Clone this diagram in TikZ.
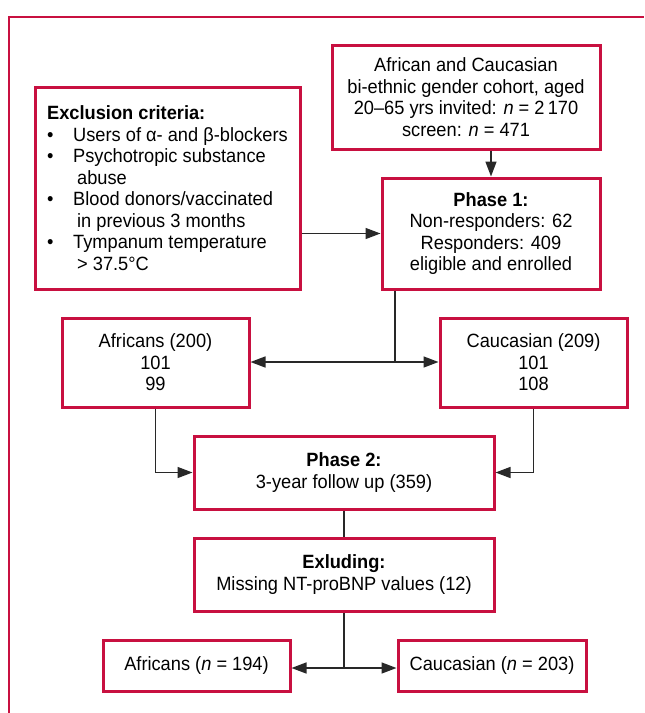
\documentclass[tikz,border=0pt]{standalone}
\usepackage{fontspec}
\setmainfont{Liberation Sans}[FakeStretch=0.95]
\usetikzlibrary{arrows.meta}
\usepackage{xcolor}
\definecolor{crimson}{RGB}{200,16,64}
\definecolor{wire}{RGB}{40,40,40}

\newcommand{\bul}[1]{\makebox[13pt][l]{\textbullet}#1}
\newcommand{\cont}[1]{\hspace*{15pt}#1}

\begin{document}
\begin{tikzpicture}[x=0.5pt,y=-0.5pt,
    cbox/.style={draw=crimson,line width=1.5pt,align=center,inner sep=0pt,
      font=\fontsize{9.6}{10.75}\selectfont},
    dims/.style 2 args={minimum width=#1*0.5pt,minimum height=#2*0.5pt},
    link/.style={draw=wire,line width=0.75pt},
    tip/.style={-{Triangle[length=7.5pt,width=5.5pt]}},
    dbl/.style={{Triangle[length=7.5pt,width=5.5pt]}-{Triangle[length=7.5pt,width=5.5pt]}}]
  \useasboundingbox (0,0) rectangle (644,713);

  % Frame
  \draw[crimson,line width=1.2pt] (9,713) -- (9,17) -- (644,17);

  % Boxes
  \node[cbox,dims={268}{104}] (cohort) at (466,97)
    {African and Caucasian\\bi-ethnic gender cohort, aged\\
     20–65 yrs invited: \textit{n} = 2\,170\\screen: \textit{n} = 471};
  \node[cbox,dims={265}{202},align=left] (excl) at (167.5,188)
    {\textbf{Exclusion criteria:}\\
     \bul{Users of α- and β-blockers}\\
     \bul{Psychotropic substance}\\
     \cont{abuse}\\
     \bul{Blood donors/vaccinated}\\
     \cont{in previous 3 months}\\
     \bul{Tympanum temperature}\\
     \cont{> 37.5°C}};
  \node[cbox,dims={218}{111}] (phase1) at (491,233.5)
    {\textbf{Phase 1:}\\Non-responders: 62\\Responders: 409\\eligible and enrolled};
  \node[cbox,dims={187}{89}] (afr1) at (155.5,362.5) {Africans (200)\\101\\99};
  \node[cbox,dims={187}{89}] (cau1) at (533.5,362.5) {Caucasian (209)\\101\\108};
  \node[cbox,dims={300}{73}] (phase2) at (344,472.5)
    {\textbf{Phase 2:}\\3-year follow up (359)};
  \node[cbox,dims={300}{73}] (exl) at (344,574.5)
    {\textbf{Exluding:}\\Missing NT-proBNP values (12)};
  \node[cbox,dims={187}{51}] (afr2) at (196.5,665.5) {Africans (\textit{n} = 194)};
  \node[cbox,dims={188}{51}] (cau2) at (492,665.5) {Caucasian (\textit{n} = 203)};

  % Links
  \coordinate (split1) at (395,362);
  \coordinate (split2) at (344,668);
  \draw[link,tip] (cohort.south -| phase1.north) -- (phase1.north);
  \draw[link,tip] (excl.east |- phase1.west) -- (phase1.west);
  \draw[link] (phase1.south -| split1) -- (split1);
  \draw[link,dbl] (afr1.east |- split1) -- (cau1.west |- split1);
  \draw[link,tip] (afr1.south) |- (phase2.west);
  \draw[link,tip] (cau1.south) |- (phase2.east);
  \draw[link] (phase2.south) -- (exl.north);
  \draw[link] (exl.south) -- (split2);
  \draw[link,dbl] (afr2.east |- split2) -- (cau2.west |- split2);
\end{tikzpicture}
\end{document}
